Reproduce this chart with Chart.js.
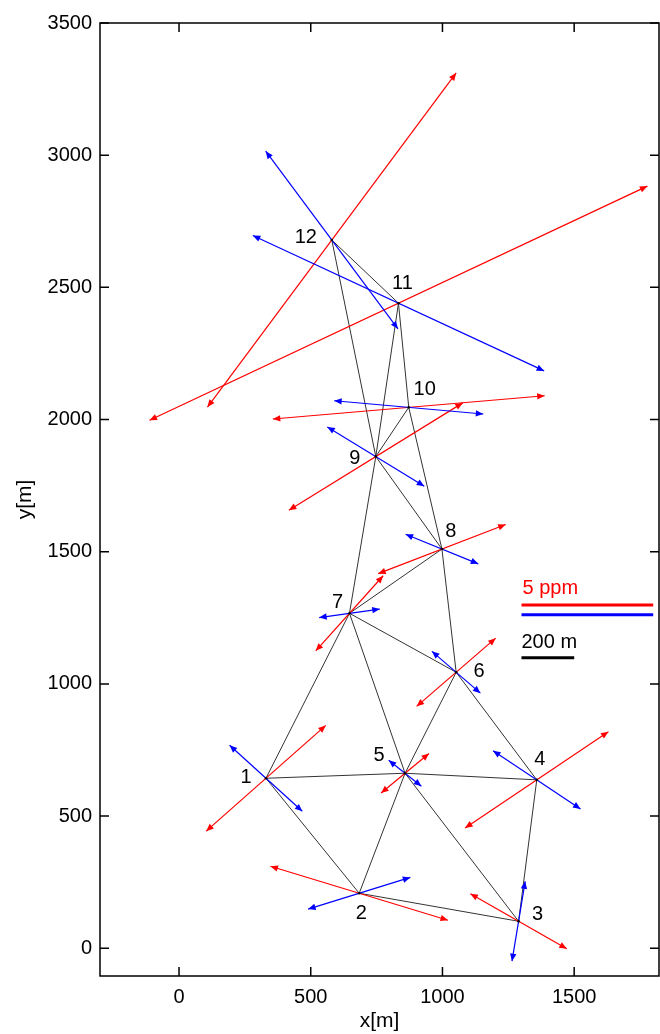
<!DOCTYPE html>
<html>
<head>
<meta charset="utf-8">
<title>Strain network</title>
<script src="https://cdn.jsdelivr.net/npm/chart.js@4.4.1/dist/chart.umd.min.js"></script>
<style>
  html, body { margin: 0; padding: 0; background: #fff; }
  #wrap { width: 660px; height: 1034px; }
</style>
</head>
<body>
<div id="wrap"><canvas id="strainChart" width="660" height="1034"></canvas></div>
<script>
// stations (m)
const nodeNames = ['1', '2', '3', '4', '5', '6', '7', '8', '9', '10', '11', '12'];
const nodeX = [330, 684, 1289, 1358, 858, 1052, 647, 998, 747, 872, 833, 580];
const nodeY = [643, 208, 102, 637, 662, 1044, 1267, 1510, 1860, 2046, 2440, 2679];

// triangulation (station numbers)
const edges = [
    [1, 2], [1, 5], [1, 7], [2, 5], [2, 3], [3, 5], [3, 4], [4, 5], [4, 6], [5, 6], [5, 7],
    [6, 7], [6, 8], [7, 8], [7, 9], [8, 9], [8, 10], [9, 10], [9, 11], [9, 12], [10, 11], [11, 12]
];

// principal strain axes, half arrow in m (5 ppm = 500 m)
const extDX = [227, 337, 183, 272, 91, 150, 128, 242, 330, 516, 945, 472];
const extDY = [200, -102, -104, 182, 75, 129, 142, 93, 203, 44, 443, 632];
const shortDX = [-138, 194, 25, 166, 62, 92, 115, 138, 184, 283, 553, 251];
const shortDY = [125, 60, 151, -110, -49, -79, 16, -56, -112, -25, -256, -336];

// axis ticks
const xTicks = [0, 500, 1000, 1500];
const yTicks = [0, 500, 1000, 1500, 2000, 2500, 3000, 3500];

// scale bars
const ppmBarLabel = '5 ppm';
const ppmBarLength = 500;
const meterBarLabel = '200 m';
const meterBarLength = 200;

const FONT = "'Liberation Sans', Arial, sans-serif";
const RED = '#ff0000';
const BLUE = '#0000ff';

document.addEventListener('DOMContentLoaded', () => {

    const datasets = [];

    edges.forEach(([a, b]) => {
        datasets.push({
            data: [{ x: nodeX[a - 1], y: nodeY[a - 1] }, { x: nodeX[b - 1], y: nodeY[b - 1] }],
            showLine: true,
            borderColor: '#333333',
            borderWidth: 1,
            pointRadius: 0,
            order: 3
        });
    });

    const arrowSet = (dx, dy, color, order) => {
        nodeX.forEach((x, i) => {
            const y = nodeY[i];
            datasets.push({
                data: [{ x: x - dx[i], y: y - dy[i] }, { x: x + dx[i], y: y + dy[i] }],
                showLine: true,
                borderColor: color,
                borderWidth: 1.2,
                pointRadius: 0,
                arrow: true,
                order: order
            });
        });
    };
    arrowSet(extDX, extDY, RED, 2);
    arrowSet(shortDX, shortDY, BLUE, 1);

    datasets.push({
        data: nodeX.map((x, i) => ({ x: x, y: nodeY[i] })),
        showLine: false,
        pointRadius: 1.3,
        pointBackgroundColor: '#000',
        pointBorderWidth: 0,
        order: 0
    });

    // arrowheads, box, inward ticks, station names, scale bars
    const decor = {
        id: 'decor',
        afterDatasetsDraw(chart) {
            const ctx = chart.ctx;
            chart.data.datasets.forEach((ds, i) => {
                if (!ds.arrow) return;
                const pts = chart.getDatasetMeta(i).data;
                const p0 = pts[0], p1 = pts[1];
                head(ctx, p0, p1, ds.borderColor);
                head(ctx, p1, p0, ds.borderColor);
            });
        },
        afterDraw(chart) {
            const ctx = chart.ctx;
            const a = chart.chartArea;
            const xs = chart.scales.x, ys = chart.scales.y;
            ctx.save();

            ctx.strokeStyle = '#000';
            ctx.lineWidth = 1.5;
            ctx.strokeRect(a.left, a.top, a.right - a.left, a.bottom - a.top);
            ctx.beginPath();
            xTicks.forEach(v => {
                const px = xs.getPixelForValue(v);
                ctx.moveTo(px, a.bottom); ctx.lineTo(px, a.bottom - 9);
                ctx.moveTo(px, a.top); ctx.lineTo(px, a.top + 9);
            });
            yTicks.forEach(v => {
                const py = ys.getPixelForValue(v);
                ctx.moveTo(a.left, py); ctx.lineTo(a.left + 9, py);
                ctx.moveTo(a.right, py); ctx.lineTo(a.right - 9, py);
            });
            ctx.stroke();

            // station names
            const offX = [-20, 2, 19, 3, -26, 23, -12, 9, -21, 16, 4, -26];
            const offY = [-2, 19, -8, -21, -19, -2, -12, -19, 1, -19, -21, -4];
            ctx.fillStyle = '#000';
            ctx.font = '20px ' + FONT;
            ctx.textAlign = 'center';
            ctx.textBaseline = 'middle';
            nodeNames.forEach((name, i) => {
                ctx.fillText(name, xs.getPixelForValue(nodeX[i]) + offX[i], ys.getPixelForValue(nodeY[i]) + offY[i] + 1);
            });

            // scale bars
            const x0 = xs.getPixelForValue(1300);
            const x1 = xs.getPixelForValue(1300 + ppmBarLength);
            const x2 = xs.getPixelForValue(1300 + meterBarLength);
            ctx.lineWidth = 3;
            ctx.lineCap = 'butt';
            const bar = (xa, xb, y, c) => {
                ctx.strokeStyle = c;
                ctx.beginPath();
                ctx.moveTo(xa, y); ctx.lineTo(xb, y);
                ctx.stroke();
            };
            bar(x0, x1, ys.getPixelForValue(1298), RED);
            bar(x0, x1, ys.getPixelForValue(1262), BLUE);
            bar(x0, x2, ys.getPixelForValue(1099), '#000');
            ctx.textAlign = 'left';
            ctx.fillStyle = RED;
            ctx.fillText(ppmBarLabel, x0 + 1, ys.getPixelForValue(1363) + 1);
            ctx.fillStyle = '#000';
            ctx.fillText(meterBarLabel, x0, ys.getPixelForValue(1162) + 1);
            ctx.restore();
        }
    };

    function head(ctx, from, to, color) {
        const ang = Math.atan2(to.y - from.y, to.x - from.x);
        const len = 7.5, half = 3.2;
        ctx.save();
        ctx.translate(to.x, to.y);
        ctx.rotate(ang);
        ctx.fillStyle = color;
        ctx.beginPath();
        ctx.moveTo(0, 0);
        ctx.lineTo(-len, -half);
        ctx.lineTo(-len, half);
        ctx.closePath();
        ctx.fill();
        ctx.restore();
    }

    const ctx = document.getElementById('strainChart').getContext('2d');
    new Chart(ctx, {
        type: 'scatter',
        data: { datasets: datasets },
        options: {
            responsive: false,
            animation: false,
            devicePixelRatio: 1,
            layout: { autoPadding: false, padding: { top: 23, right: 1, left: 0, bottom: 0 } },
            plugins: { legend: { display: false }, tooltip: { enabled: false } },
            scales: {
                x: {
                    type: 'linear',
                    min: -300,
                    max: 1822,
                    afterBuildTicks: s => { s.ticks = xTicks.map(v => ({ value: v })); },
                    afterFit: s => { s.height = 58; s.paddingLeft = 0; s.paddingRight = 0; },
                    grid: { display: false, drawTicks: false },
                    border: { display: false },
                    ticks: { color: '#000', font: { family: FONT, size: 20 }, padding: 9, maxRotation: 0, callback: v => String(v) },
                    title: { display: true, text: 'x[m]', color: '#000', font: { family: FONT, size: 21 }, padding: { top: 0, bottom: 0 } }
                },
                y: {
                    type: 'linear',
                    min: -105,
                    max: 3500,
                    afterBuildTicks: s => { s.ticks = yTicks.map(v => ({ value: v })); },
                    afterFit: s => { s.width = 100; s.paddingTop = 0; s.paddingBottom = 0; },
                    grid: { display: false, drawTicks: false },
                    border: { display: false },
                    ticks: { color: '#000', font: { family: FONT, size: 20 }, padding: 8, callback: v => String(v) },
                    title: { display: true, text: 'y[m]', color: '#000', font: { family: FONT, size: 21 }, padding: { top: 13, bottom: 0 } }
                }
            }
        },
        plugins: [decor]
    });

});
</script>
</body>
</html>
